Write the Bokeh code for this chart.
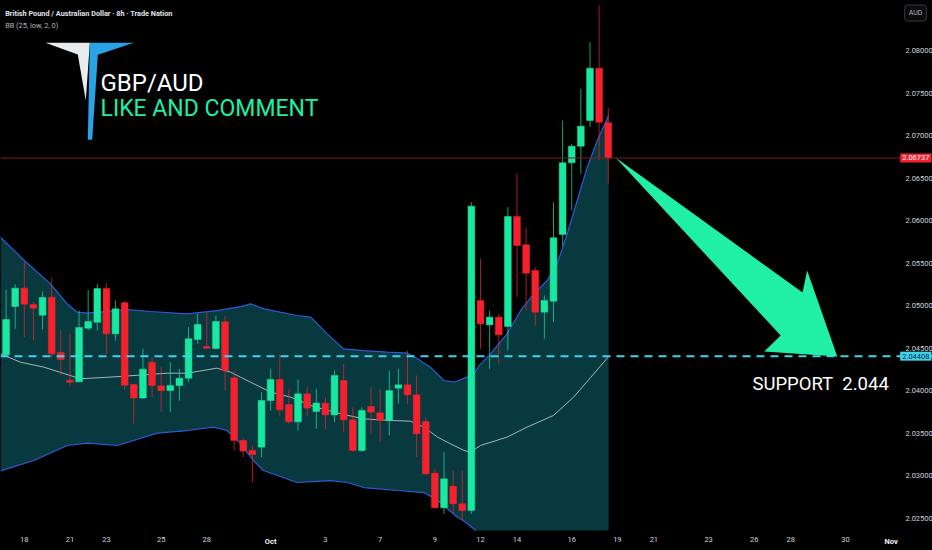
from bokeh.plotting import figure
from bokeh.models import (FixedTicker, NumeralTickFormatter, Span, Label, Range1d, LinearAxis,
                          GlobalInlineStyleSheet, ColumnDataSource)
from bokeh.embed import file_html
from bokeh.resources import INLINE

# ---------------- data ----------------
bar_index = list(range(-2, 65))
opens = [2.04424, 2.04992, 2.05207, 2.05015, 2.04890, 2.05101, 2.04451, 2.04126, 2.04106, 2.04737,
         2.04807, 2.05203, 2.04670, 2.05035, 2.04075, 2.03915, 2.04337, 2.04059, 2.04005, 2.04063,
         2.04149, 2.04604, 2.04522, 2.04498, 2.04811, 2.04153, 2.03417, 2.03300, 2.03339, 2.03887,
         2.04134, 2.03840, 2.03636, 2.03965, 2.03758, 2.03856, 2.03718, 2.04122, 2.03660, 2.03299,
         2.03816, 2.03742, 2.03652, 2.04032, 2.04071, 2.03954, 2.03640, 2.03033, 2.02626, 2.02880,
         2.02673, 2.02595, 2.05062, 2.04776, 2.04866, 2.04757, 2.06049, 2.05717, 2.05415, 2.04925,
         2.05054, 2.05838, 2.06680, 2.06876, 2.07177, 2.07792, 2.07150]
highs = [2.05187, 2.05250, 2.05524, 2.05050, 2.05168, 2.05324, 2.04710, 2.04670, 2.04944, 2.05187,
         2.05258, 2.05266, 2.05062, 2.05062, 2.04083, 2.04494, 2.04396, 2.04279, 2.04337, 2.04259,
         2.04749, 2.04905, 2.04925, 2.04886, 2.04878, 2.04239, 2.03450, 2.03358, 2.03985, 2.04259,
         2.04435, 2.04024, 2.04134, 2.04044, 2.04024, 2.03926, 2.04240, 2.04318, 2.03808, 2.03808,
         2.04044, 2.04024, 2.04240, 2.04260, 2.04474, 2.04181, 2.03691, 2.03084, 2.03280, 2.03064,
         2.03064, 2.06218, 2.05552, 2.04945, 2.04906, 2.06160, 2.06551, 2.05924, 2.05454, 2.05121,
         2.06218, 2.07177, 2.06903, 2.07550, 2.08098, 2.08529, 2.07326]
lows = [2.04396, 2.04729, 2.04631, 2.04592, 2.04721, 2.04396, 2.04181, 2.04052, 2.04102, 2.04710,
        2.04710, 2.04435, 2.04592, 2.04012, 2.03613, 2.03907, 2.03926, 2.03750, 2.03750, 2.03887,
        2.04102, 2.04553, 2.04498, 2.04490, 2.04005, 2.03299, 2.03220, 2.02927, 2.03220, 2.03769,
        2.03710, 2.03613, 2.03534, 2.03710, 2.03554, 2.03554, 2.03632, 2.03515, 2.03280, 2.03280,
        2.03495, 2.03397, 2.03476, 2.03848, 2.03848, 2.03220, 2.03006, 2.02614, 2.02555, 2.02555,
        2.02477, 2.02555, 2.04494, 2.04259, 2.04318, 2.04475, 2.05101, 2.04945, 2.04768, 2.04612,
        2.04808, 2.05709, 2.06120, 2.06551, 2.07099, 2.06708, 2.06433]
closes = [2.04839, 2.05207, 2.05019, 2.04972, 2.05097, 2.04435, 2.04369, 2.04102, 2.04745, 2.04815,
          2.05203, 2.04670, 2.04964, 2.04067, 2.03915, 2.04255, 2.04063, 2.04005, 2.04063, 2.04149,
          2.04612, 2.04780, 2.04502, 2.04815, 2.04239, 2.03417, 2.03292, 2.03252, 2.03887, 2.04134,
          2.03777, 2.03636, 2.03965, 2.03797, 2.03856, 2.03718, 2.04181, 2.03660, 2.03299, 2.03769,
          2.03750, 2.03652, 2.04004, 2.04071, 2.03954, 2.03495, 2.03025, 2.02626, 2.02966, 2.02673,
          2.02594, 2.06171, 2.04788, 2.04866, 2.04659, 2.06049, 2.05709, 2.05383, 2.04925, 2.05062,
          2.05799, 2.06680, 2.06876, 2.07111, 2.07792, 2.07158, 2.06737]

# Bollinger band (25, low, 2, 0) traced points
upper_x = [-2.61, 0.0, 2.87, 4.7, 5.8, 6.9, 11.3, 13.8, 17.85, 21.1, 23.7, 24.8, 26.25, 29.9, 31.4,
           33.2, 35.0, 37.2, 39.8, 42.0, 43.1, 44.5, 46.0, 47.1, 48.5, 49.3, 49.8, 51.1, 52.9, 54.4,
           55.85, 57.3, 58.4, 59.5, 60.6, 61.7, 62.8, 64.05]
upper_y = [2.05806, 2.05532, 2.05258, 2.05023, 2.04925, 2.04913, 2.04956, 2.04933, 2.04905, 2.04944,
           2.04991, 2.05023, 2.04964, 2.04886, 2.04866, 2.04670, 2.04494, 2.04474, 2.04455, 2.04443,
           2.04377, 2.04279, 2.04122, 2.04102, 2.04161, 2.04200, 2.04290, 2.04435, 2.04670, 2.04945,
           2.05140, 2.05297, 2.05493, 2.05846, 2.06237, 2.06629, 2.06942, 2.07236]
# lower band: visible part only (it leaves the chart bottom at bar ~49.5)
lower_x = [-2.61, 1.04, 4.7, 6.9, 10.2, 12.0, 14.56, 17.85, 20.8, 22.2, 23.4, 25.1, 26.2, 29.9,
           33.5, 35.4, 37.2, 40.9, 43.8, 45.3, 47.5, 48.1, 49.5]
lower_y = [2.03060, 2.03182, 2.03358, 2.03386, 2.03358, 2.03417, 2.03503, 2.03534, 2.03574, 2.03534,
           2.03417, 2.03182, 2.03064, 2.02923, 2.02946, 2.02923, 2.02864, 2.02829, 2.02805, 2.02711,
           2.02512, 2.02476, 2.02359]
basis_x = [-2.61, -0.42, 2.14, 6.16, 10.5, 15.66, 17.85, 21.1, 22.6, 23.7, 24.8, 27.0, 29.2, 31.7,
           34.7, 37.2, 40.1, 42.3, 43.8, 45.3, 46.7, 48.2, 48.9, 50.0, 52.9, 55.1, 58.0, 60.2, 62.1, 64.05]
basis_y = [2.04435, 2.04337, 2.04279, 2.04142, 2.04169, 2.04208, 2.04208, 2.04267, 2.04220, 2.04161,
           2.04102, 2.03985, 2.03926, 2.03816, 2.03730, 2.03671, 2.03652, 2.03644, 2.03574, 2.03456,
           2.03378, 2.03300, 2.03280, 2.03358, 2.03456, 2.03574, 2.03711, 2.03926, 2.04161, 2.04404]
chart_bottom = 2.02359      # price at the bottom edge of the price pane
axis_bar = 95.7             # bar position of the price-scale edge

# axes
day_ticks = [0, 5, 9, 15, 20, 33, 39, 45, 50, 54, 60, 65, 69, 75, 80, 84, 90]
day_labels = ["18", "21", "23", "25", "28", "3", "7", "9", "12", "14", "16",
              "19", "21", "23", "26", "28", "30"]
month_ticks = [27, 95]
month_labels = ["Oct", "Nov"]
price_ticks = [2.025, 2.030, 2.035, 2.040, 2.045, 2.050, 2.055, 2.060, 2.065, 2.070, 2.075, 2.080]
last_price = 2.06737
support_price = 2.04408

# drawings
arrow_x = [64.8, 85.3, 85.8, 89.1, 81.1, 82.9]
arrow_y = [2.06743, 2.05156, 2.05415, 2.04404, 2.04463, 2.04651]
logo_white_x = [2.32, 7.18, 6.74, 5.86]
logo_white_y = [2.08090, 2.08090, 2.07412, 2.07953]
logo_blue_x = [7.18, 12.0, 8.06, 7.44, 6.96]
logo_blue_y = [2.08090, 2.08090, 2.07949, 2.06951, 2.06951]

title_text = "British Pound / Australian Dollar · 8h · Trade Nation"
indicator_text = "BB (25, low, 2, 0)"

# ---------------- figure ----------------
X0, X1 = -2.61, 99.54
Y0, Y1 = 2.02124, 2.08588
p = figure(width=932, height=550, x_range=Range1d(X0, X1), y_range=Range1d(Y0, Y1),
           output_backend="svg", toolbar_location=None, y_axis_location="right",
           background_fill_color="#000000", border_fill_color="#000000",
           outline_line_color=None, min_border=0)
p.stylesheets = [GlobalInlineStyleSheet(css="body{background:#000000;}")]
p.xgrid.visible = False
p.ygrid.visible = False

# band fill and lines
fill_x = upper_x + [upper_x[-1]] + lower_x[::-1]
fill_y = upper_y + [chart_bottom] + lower_y[::-1]
p.patch(fill_x, fill_y, fill_color="#07393f", line_color=None)
p.line(upper_x, upper_y, line_color="#2d5bd6", line_width=1.2)
p.line(lower_x, lower_y, line_color="#2d5bd6", line_width=1.2)
p.line(basis_x, basis_y, line_color="#a7b4bb", line_width=1)

# candles
up_col, dn_col = "#19e8a0", "#f5222d"
colors = [up_col if c >= o else dn_col for o, c in zip(opens, closes)]
src = ColumnDataSource(dict(x=bar_index, o=opens, h=highs, l=lows, c=closes,
                            top=[max(o, c) for o, c in zip(opens, closes)],
                            bot=[min(o, c) for o, c in zip(opens, closes)],
                            col=colors))
p.segment(x0="x", y0="l", x1="x", y1="h", line_color="col", line_width=1, line_alpha=0.7,
          source=src)
p.vbar(x="x", top="top", bottom="bot", width=0.74, fill_color="col", line_color="col",
       line_width=0.5, source=src)

# price lines
p.add_layout(Span(location=last_price, dimension="width", line_color="#861c1c", line_width=1))
p.add_layout(Span(location=support_price, dimension="width", line_color="#3fd3ec",
                  line_width=2, line_dash="8 6"))

# arrow and logo
p.patch(arrow_x, arrow_y, fill_color="#1ff0a6", line_color=None)
p.patch(logo_white_x, logo_white_y, fill_color="#e9ecef", line_color=None)
p.patch(logo_blue_x, logo_blue_y, fill_color="#2aa2e6", line_color=None)

disp_font = "Roboto"
p.add_layout(Label(x=8.35, y=2.07624, text="GBP/AUD", text_color="#ffffff",
                   text_font=disp_font, text_font_size="24px",
                   text_baseline="alphabetic"))
p.add_layout(Label(x=8.35, y=2.07318, text="LIKE AND COMMENT", text_color="#1ff0a6",
                   text_font=disp_font, text_font_size="23px",
                   text_baseline="alphabetic"))
p.add_layout(Label(x=79.8, y=2.04075, text="SUPPORT\u00a0 2.044", text_color="#ffffff",
                   text_font=disp_font, text_font_size="18.5px",
                   text_baseline="alphabetic"))

p.add_layout(Label(x=-2.1, y=2.08435, text=title_text, text_color="#e0e3eb",
                   text_font="Roboto", text_font_size="7.3px", text_font_style="bold",
                   text_baseline="middle"))
p.add_layout(Label(x=-2.1, y=2.08294, text=indicator_text, text_color="#b2b5be",
                   text_font="Roboto", text_font_size="7.3px",
                   text_baseline="middle"))

# price tags on the price scale
p.add_layout(Label(x=axis_bar + 0.3, y=last_price, text="2.06737", text_color="#ffffff",
                   text_font="Roboto", text_font_size="7.5px", text_baseline="middle",
                   background_fill_color="#f5222d", padding=2))
p.add_layout(Label(x=axis_bar + 0.3, y=support_price, text="2.04408", text_color="#0b2540",
                   text_font="Roboto", text_font_size="7.5px", text_baseline="middle",
                   background_fill_color="#3fd3ec", padding=2))
p.add_layout(Label(x=97.68, y=2.08441, text="AUD", text_color="#b2b5be",
                   text_font="Roboto", text_font_size="7px", text_baseline="middle",
                   text_align="center",
                   background_fill_color="#0b0b0b", border_line_color="#363a45",
                   padding=4, border_radius=3))

# axes: pinned inside the pane like the TradingView scales
month_axis = LinearAxis(ticker=FixedTicker(ticks=month_ticks),
                        major_label_overrides={t: s for t, s in zip(month_ticks, month_labels)})
p.add_layout(month_axis, "below")
p.xaxis.fixed_location = chart_bottom
p.yaxis.fixed_location = axis_bar
p.xaxis[0].ticker = FixedTicker(ticks=day_ticks)
p.xaxis[0].major_label_overrides = {t: s for t, s in zip(day_ticks, day_labels)}
p.yaxis.ticker = FixedTicker(ticks=price_ticks)
p.yaxis.formatter = NumeralTickFormatter(format="0.00000")
for ax in list(p.xaxis) + list(p.yaxis):
    ax.axis_line_color = None
    ax.major_tick_line_color = None
    ax.minor_tick_line_color = None
    ax.major_tick_out = 0
    ax.major_tick_in = 0
    ax.minor_tick_out = 0
    ax.major_label_text_color = "#d1d4dc"
    ax.major_label_text_font = "Roboto"
    ax.major_label_text_font_size = "7.5px"
p.yaxis.major_label_standoff = 8
p.xaxis.major_label_standoff = 6
month_axis.major_label_text_font_style = "bold"
month_axis.major_label_text_color = "#f0f3fa"

open("out.html", "w").write(file_html(p, INLINE))
